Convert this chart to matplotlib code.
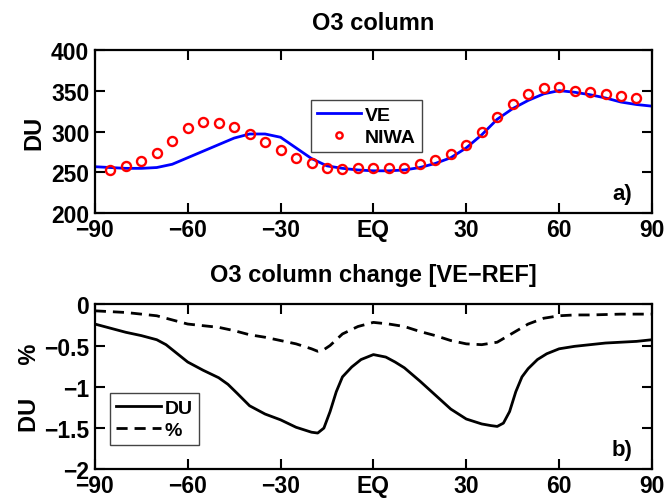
import matplotlib
matplotlib.use("Agg")
import matplotlib.pyplot as plt
from matplotlib.ticker import FuncFormatter

plt.rcParams['font.family'] = ['Liberation Sans', 'DejaVu Sans']
plt.rcParams['font.weight'] = 'bold'
plt.rcParams['axes.labelweight'] = 'bold'

# top panel: total ozone column
lat_ve = list(range(-90, 91, 5))
ve = [257, 256, 255, 255, 256, 260, 268, 276, 284, 292, 297, 297, 293,
      280, 267, 258, 255, 253, 252, 252, 253, 256, 261, 268, 280, 296,
      315, 328, 338, 346, 350, 348, 345, 341, 336, 333, 331]

lat_niwa = list(range(-85, 86, 5))
niwa = [253, 258, 264, 274, 289, 304, 312, 311, 306, 297, 287, 277, 268,
        261, 256, 254, 255, 255, 255, 256, 260, 265, 272, 283, 300, 318,
        334, 346, 353, 354, 349, 348, 346, 343, 341]

# bottom panel: change VE-REF
lat_du = [-90, -85, -80, -75, -70, -67, -64, -60, -55, -50, -47, -44, -40,
          -35, -30, -25, -20, -18, -16, -14, -12, -10, -7, -4, 0, 4, 7, 10,
          15, 20, 25, 30, 35, 38, 40, 42, 44, 46, 48, 50, 53, 56, 60, 65, 70,
          75, 80, 85, 90]
du = [-0.24, -0.29, -0.34, -0.38, -0.43, -0.49, -0.58, -0.7, -0.8, -0.89,
      -0.97, -1.08, -1.23, -1.33, -1.4, -1.49, -1.55, -1.56, -1.5, -1.3,
      -1.06, -0.88, -0.76, -0.67, -0.61, -0.64, -0.7, -0.77, -0.93, -1.1,
      -1.27, -1.39, -1.45, -1.47, -1.48, -1.44, -1.3, -1.06, -0.88, -0.78,
      -0.67, -0.6, -0.54, -0.51, -0.49, -0.47, -0.46, -0.45, -0.43]

lat_pct = [-90, -80, -70, -65, -60, -55, -50, -45, -40, -35, -30, -25, -20,
           -18, -16, -14, -12, -10, -5, 0, 5, 10, 15, 20, 25, 30, 35, 40,
           45, 50, 55, 60, 65, 70, 80, 90]
pct = [-0.08, -0.1, -0.14, -0.19, -0.24, -0.26, -0.28, -0.32, -0.37, -0.4,
       -0.44, -0.48, -0.54, -0.57, -0.55, -0.5, -0.43, -0.36, -0.27, -0.22,
       -0.24, -0.27, -0.33, -0.38, -0.44, -0.48, -0.49, -0.46, -0.35, -0.24,
       -0.17, -0.14, -0.13, -0.13, -0.12, -0.12]

xticks = [-90, -60, -30, 0, 30, 60, 90]
xlabels = ['\u221290', '\u221260', '\u221230', 'EQ', '30', '60', '90']

fig = plt.figure(figsize=(6.68, 5.02), dpi=100)
ax1 = fig.add_axes([0.142, 0.573, 0.834, 0.326])
ax2 = fig.add_axes([0.142, 0.063, 0.834, 0.329])


def style(ax):
    ax.set_xlim(-90, 90)
    ax.set_xticks(xticks)
    ax.set_xticklabels(xlabels)
    ax.tick_params(direction='in', top=True, right=True, length=7, width=1.5,
                   labelsize=16.5, pad=4)
    ax.tick_params(axis='x', pad=3)
    for s in ax.spines.values():
        s.set_linewidth(1.6)


ax1.plot(lat_ve, ve, color='#0000ff', lw=2, label='VE')
ax1.plot(lat_niwa, niwa, 'o', mfc='none', mec='#ff0000', mew=1.7, ms=6.5,
         label='NIWA')
ax1.set_ylim(200, 400)
ax1.set_yticks([200, 250, 300, 350, 400])
style(ax1)
ax1.set_ylabel('DU', fontsize=17, labelpad=4)
ax1.set_title('O3 column', fontsize=17, fontweight='bold', pad=15)
ax1.text(0.965, 0.12, 'a)', transform=ax1.transAxes, fontsize=16,
         ha='right', va='center')
leg1 = ax1.legend(loc='upper left', bbox_to_anchor=(0.37, 0.75),
                  fontsize=14, fancybox=False, framealpha=1,
                  edgecolor='#444444', handlelength=2.3, borderpad=0.3,
                  labelspacing=0.25, handletextpad=0.2, markerscale=0.7)
leg1.get_frame().set_linewidth(1)

ax2.plot(lat_du, du, color='black', lw=2, label='DU')
ax2.plot(lat_pct, pct, color='black', lw=2, dashes=(4, 2.5), label='%')
ax2.set_ylim(-2, 0)
ax2.set_yticks([-2, -1.5, -1, -0.5, 0])
ax2.yaxis.set_major_formatter(FuncFormatter(
    lambda v, p: ('%g' % v).replace('-', '\u2212')))
style(ax2)
ax2.set_ylabel('DU     %', fontsize=17, labelpad=2)
ax2.set_title('O3 column change [VE\u2212REF]', fontsize=17,
              fontweight='bold', pad=17)
ax2.text(0.965, 0.12, 'b)', transform=ax2.transAxes, fontsize=16,
         ha='right', va='center')
leg2 = ax2.legend(loc='upper left', bbox_to_anchor=(0.01, 0.52),
                  fontsize=14, fancybox=False, framealpha=1,
                  edgecolor='#444444', handlelength=2.3, borderpad=0.3,
                  labelspacing=0.25, handletextpad=0.2)
leg2.get_frame().set_linewidth(1)

fig.savefig('out.png', dpi=100)
